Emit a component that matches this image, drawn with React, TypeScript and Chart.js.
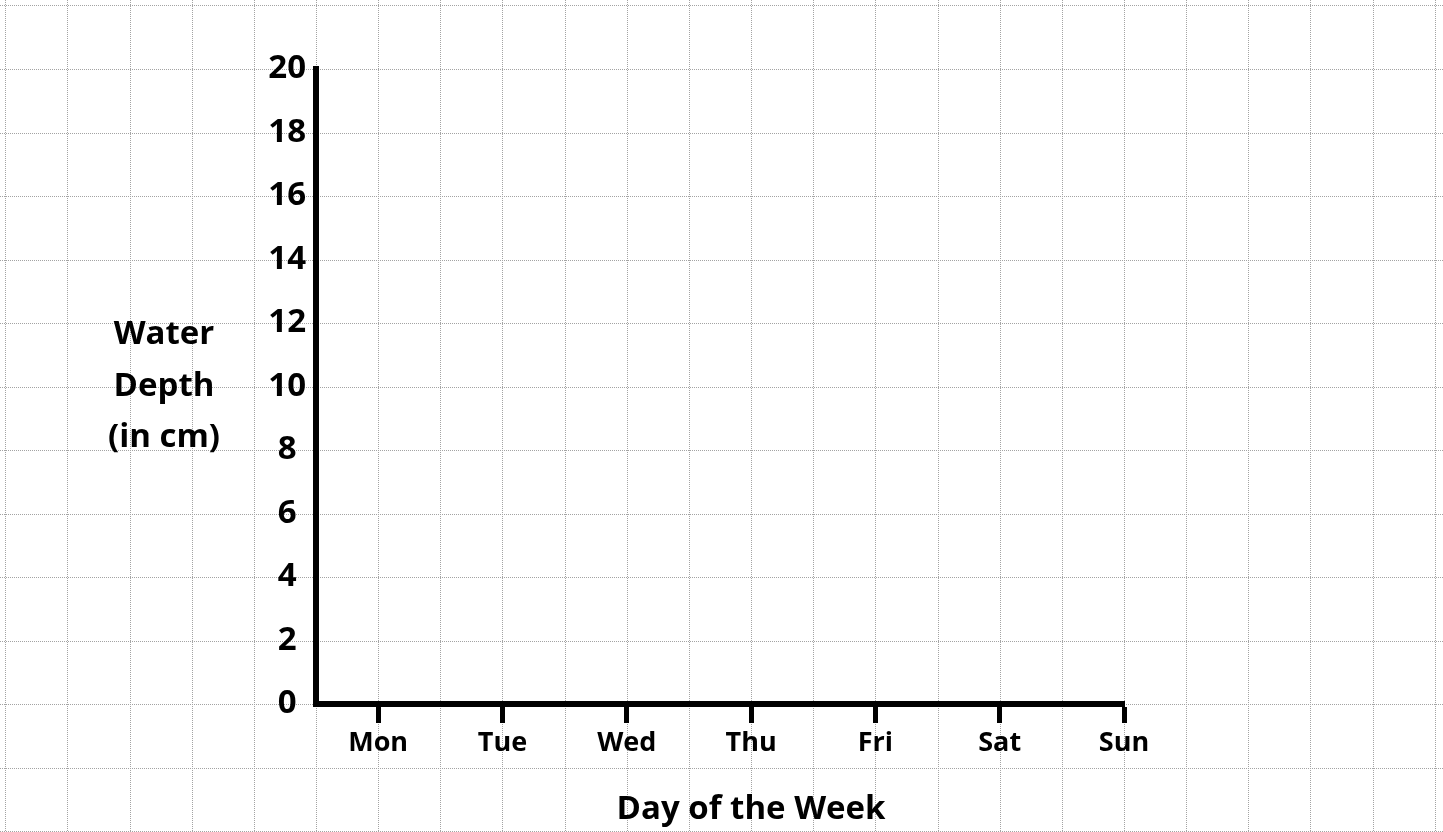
import React, { useEffect, useRef } from "react";
import { Chart, registerables } from "chart.js";

Chart.register(...registerables);

// ---- data -------------------------------------------------------------
const days = ["Mon", "Tue", "Wed", "Thu", "Fri", "Sat", "Sun"];
const depthTicks = [0, 2, 4, 6, 8, 10, 12, 14, 16, 18, 20];
// blank worksheet: no readings are plotted yet
const waterDepth: (number | null)[] = [];
const yTitleLines = ["Water", "Depth", "(in cm)"];
const xTitle = "Day of the Week";

// ---- style -------------------------------------------------------------
const W = 1443;
const H = 832;
const FONT = "'Open Sans', 'Noto Sans', sans-serif";

const paperGrid = {
  id: "paperGrid",
  beforeDraw(chart: any) {
    const { ctx } = chart;
    const xs = chart.scales.x;
    const ys = chart.scales.y;
    ctx.save();
    ctx.fillStyle = "#ffffff";
    ctx.fillRect(0, 0, chart.width, chart.height);
    ctx.strokeStyle = "#a3a3a3";
    ctx.lineWidth = 1;
    ctx.setLineDash([1, 1]);
    ctx.beginPath();
    const xStep = 0.5;
    const yStep = depthTicks[1] - depthTicks[0];
    for (let k = -40; k <= 40; k++) {
      const px = xs.getPixelForValue(xs.min + k * xStep);
      if (px < -1 || px > chart.width + 1) continue;
      const p = Math.round(px) + 0.5;
      ctx.moveTo(p, 0);
      ctx.lineTo(p, chart.height);
    }
    for (let k = -40; k <= 40; k++) {
      const py = ys.getPixelForValue(ys.min + k * yStep);
      if (py < -1 || py > chart.height + 1) continue;
      const p = Math.round(py) + 0.5;
      ctx.moveTo(0, p);
      ctx.lineTo(chart.width, p);
    }
    ctx.stroke();
    ctx.restore();
  },
};

const axisTitles = {
  id: "axisTitles",
  afterDraw(chart: any) {
    const { ctx, chartArea } = chart;
    const xs = chart.scales.x;
    const ys = chart.scales.y;
    ctx.save();
    ctx.fillStyle = "#000000";
    ctx.textAlign = "center";
    ctx.font = `bold 33px ${FONT}`;
    ctx.textBaseline = "middle";
    const cx = chartArea.left - 152;
    const cy = ys.getPixelForValue((ys.min + ys.max) / 2);
    yTitleLines.forEach((t, i) => {
      ctx.fillText(t, cx, cy + (i - (yTitleLines.length - 1) / 2) * 51.5);
    });
    ctx.font = `bold 33px ${FONT}`;
    ctx.textBaseline = "alphabetic";
    ctx.fillText(xTitle, xs.getPixelForValue((days.length - 1) / 2), chartArea.bottom + 115);
    ctx.restore();
  },
};

export default function App() {
  const canvasRef = useRef<HTMLCanvasElement | null>(null);

  useEffect(() => {
    const canvas = canvasRef.current;
    if (!canvas) return;
    const chart = new Chart(canvas, {
      type: "line",
      data: {
        datasets: [
          {
            label: "Water Depth (in cm)",
            data: waterDepth as any,
            borderColor: "#000000",
            backgroundColor: "#000000",
          },
        ],
      },
      options: {
        responsive: false,
        animation: false,
        devicePixelRatio: 1,
        layout: { padding: { left: 0, right: W - 1124, top: 69, bottom: 0 } },
        plugins: {
          legend: { display: false },
          tooltip: { enabled: false },
          title: { display: false },
        },
        scales: {
          x: {
            type: "linear",
            position: "bottom",
            min: -0.5,
            max: days.length - 1,
            afterBuildTicks: (scale: any) => {
              scale.ticks = days.map((_, i) => ({ value: i }));
            },
            afterFit: (scale: any) => {
              scale.height = H - 704;
            },
            grid: {
              display: true,
              drawOnChartArea: false,
              drawTicks: true,
              tickLength: 19,
              tickWidth: 5,
              tickColor: "#000000",
            },
            border: { display: true, color: "#000000", width: 6 },
            ticks: {
              autoSkip: false,
              maxRotation: 0,
              minRotation: 0,
              padding: 4,
              color: "#000000",
              font: { family: FONT, size: 27, weight: "bold" },
              callback: (_v: any, i: number) => days[i],
            },
          },
          y: {
            type: "linear",
            position: "left",
            min: depthTicks[0],
            max: depthTicks[depthTicks.length - 1],
            afterBuildTicks: (scale: any) => {
              scale.ticks = depthTicks.map((v) => ({ value: v }));
            },
            afterFit: (scale: any) => {
              scale.width = 316;
            },
            grid: { display: false, drawTicks: false },
            border: { display: true, color: "#000000", width: 6 },
            ticks: {
              crossAlign: "center",
              padding: 10,
              color: "#000000",
              font: { family: FONT, size: 33, weight: "bold" },
            },
          },
        },
      },
      plugins: [paperGrid, axisTitles],
    } as any);
    return () => chart.destroy();
  }, []);

  return (
    <div style={{ position: "fixed", left: 0, top: 0, width: W, height: H, background: "#fff" }}>
      <canvas ref={canvasRef} width={W} height={H} style={{ display: "block", width: W, height: H }} />
    </div>
  );
}
